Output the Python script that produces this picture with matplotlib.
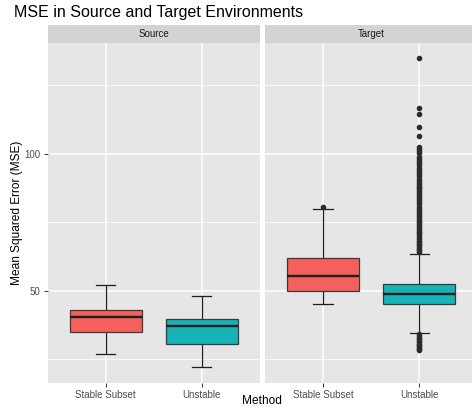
import matplotlib
matplotlib.use("Agg")
import matplotlib.pyplot as plt

plt.rcParams['font.family'] = ['Liberation Sans', 'DejaVu Sans']

# ------------------------------------------------------------
# Data (box stats per environment)
# ------------------------------------------------------------
methods = ["Stable Subset", "Unstable"]
envs = ["Source", "Target"]
fill_colors = ["#F5605C", "#17B3B7"]

# whislo, q1, median, q3, whishi
source_stable = [27.1, 35.0, 40.5, 43.0, 52.2]
source_unstable = [22.3, 30.7, 37.1, 39.8, 48.3]
target_stable = [45.4, 50.1, 55.5, 62.2, 80.0]
target_unstable = [34.7, 45.3, 49.0, 52.7, 63.6]

target_stable_out = [80.8]
target_unstable_out = [
    28.5, 28.9, 29.3, 29.8, 30.3, 30.8, 31.3, 31.8, 32.3, 32.9, 33.5, 34.1,
    64.2, 64.8, 65.4, 66.0, 66.6, 67.2, 67.8, 68.4, 69.0, 69.7, 70.3, 71.0,
    71.6, 72.3, 73.0, 73.6, 74.3, 75.0, 75.7, 76.4, 77.1, 77.8, 78.5, 79.2,
    79.9, 80.5, 81.8, 82.5, 83.2, 83.9, 84.6, 85.3, 86.0, 86.7, 87.4, 88.1,
    88.8, 89.5, 90.2, 91.0, 91.8, 92.6, 93.4, 94.1, 94.8, 96.0, 96.7, 97.4,
    98.1, 98.8, 100.3, 101.0, 101.7, 102.5, 106.7, 110.0, 114.7, 116.9, 134.9,
]

panels = {
    "Source": [(source_stable, []), (source_unstable, [])],
    "Target": [(target_stable, target_stable_out), (target_unstable, target_unstable_out)],
}

# ------------------------------------------------------------
# Figure layout (pixel based)
# ------------------------------------------------------------
W, H = 472, 408
fig = plt.figure(figsize=(W / 100, H / 100), dpi=100)


def px_axes(x0, y0, x1, y1):
    return fig.add_axes([x0 / W, 1 - y1 / H, (x1 - x0) / W, (y1 - y0) / H])


panel_x = {"Source": (48, 259.5), "Target": (265.3, 476.8)}
top, bottom = 43, 382.7

for i, env in enumerate(envs):
    x0, x1 = panel_x[env]
    ax = px_axes(x0, top, x1, bottom)
    ax.set_facecolor("#E6E6E6")
    for s in ax.spines.values():
        s.set_visible(False)

    stats = []
    for (vals, fl), m in zip(panels[env], methods):
        stats.append(dict(whislo=vals[0], q1=vals[1], med=vals[2], q3=vals[3],
                          whishi=vals[4], fliers=fl, label=m))

    bp = ax.bxp(stats, positions=[1, 2], widths=0.75, capwidths=0.2,
                patch_artist=True, showfliers=True,
                boxprops=dict(edgecolor="#3A3A3A", linewidth=0.9),
                medianprops=dict(color="#1E1E1E", linewidth=1.7),
                whiskerprops=dict(color="#1E1E1E", linewidth=0.9),
                capprops=dict(color="#1E1E1E", linewidth=0.9),
                flierprops=dict(marker="o", markersize=3.0,
                                markerfacecolor="#2B2B2B",
                                markeredgecolor="#2B2B2B", linestyle="none"))
    for patch, c in zip(bp["boxes"], fill_colors):
        patch.set_facecolor(c)
        patch.set_zorder(3)
    for key in ("medians", "whiskers", "caps", "fliers"):
        for art in bp[key]:
            art.set_zorder(4 if key != "whiskers" else 2)

    ax.set_xlim(0.4, 2.6)
    ax.set_ylim(16.5, 140.5)
    ax.set_yticks([50, 100])
    ax.set_yticks([25, 75, 125], minor=True)
    ax.set_xticks([1, 2])
    ax.set_xticklabels(methods, fontsize=7, color="#4D4D4D")
    ax.grid(True, which="major", color="white", linewidth=1.1, zorder=0)
    ax.grid(True, which="minor", axis="y", color="white", linewidth=0.55, zorder=0)
    ax.set_axisbelow(True)
    ax.tick_params(axis="both", which="major", length=2.7, width=0.7,
                   color="#333333", pad=2.5)
    ax.tick_params(axis="y", which="minor", length=0)
    if i == 0:
        ax.set_yticklabels(["50", "100"], fontsize=7, color="#4D4D4D")
    else:
        ax.tick_params(axis="y", which="major", length=0, labelleft=False)

    # facet strip
    sax = px_axes(x0, 25, x1, top)
    sax.set_facecolor("#D3D3D3")
    sax.set_xticks([])
    sax.set_yticks([])
    for s in sax.spines.values():
        s.set_visible(False)
    sax.text(0.5, 0.5, env, ha="center", va="center", fontsize=7,
             color="#1A1A1A", transform=sax.transAxes)

fig.text(14 / W, 1 - 12 / H, "MSE in Source and Target Environments",
         fontsize=11.5, ha="left", va="center", color="black")
fig.text(17 / W, 1 - 212.8 / H, "Mean Squared Error (MSE)", rotation=90,
         fontsize=8.6, ha="center", va="center", color="black")
fig.text(262 / W, 1 - 400.5 / H, "Method", fontsize=8.6, ha="center",
         va="center", color="black")

fig.savefig("out.png", dpi=100)
